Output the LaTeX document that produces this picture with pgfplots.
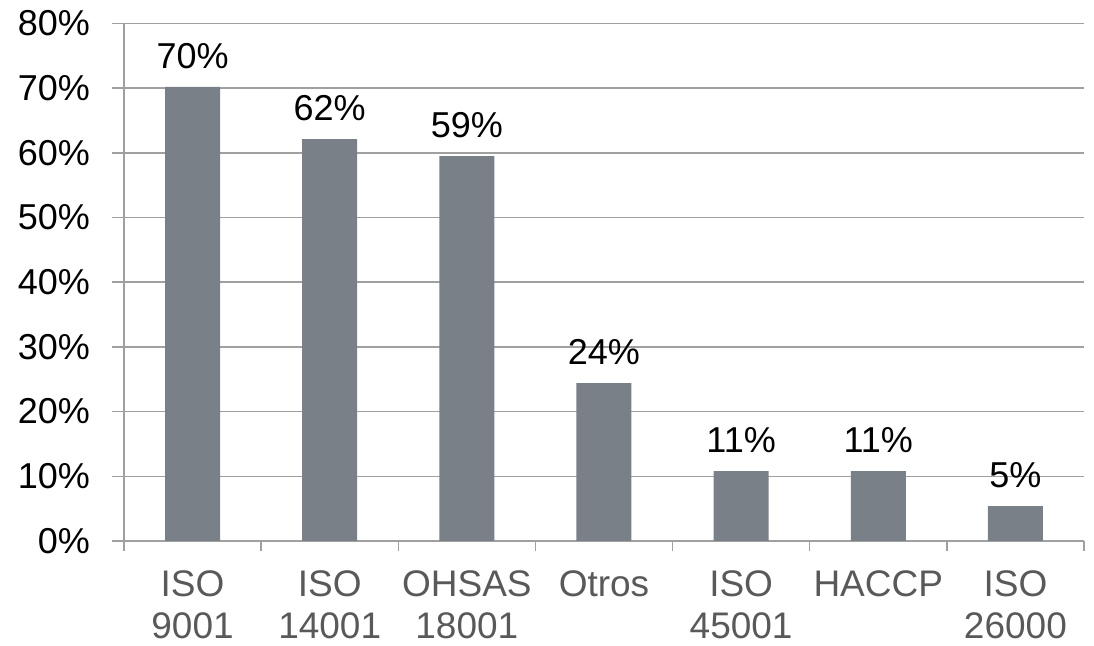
\documentclass[border=0pt]{standalone}
\usepackage{pgfplots}
\pgfplotsset{compat=1.18}
\usepackage{fontspec}
\setmainfont{Liberation Sans}
\definecolor{bargray}{HTML}{7A8088}
\definecolor{gridgray}{HTML}{A0A0A0}
\definecolor{labgray}{HTML}{595959}
\begin{document}
\begin{tikzpicture}
\begin{axis}[
  name=ax,
  scale only axis,
  width=480pt, height=258.8pt,
  xmin=-0.5, xmax=6.5,
  ymin=0, ymax=80,
  ytick={0,10,...,80},
  yticklabels={0\%,10\%,20\%,30\%,40\%,50\%,60\%,70\%,80\%},
  ymajorgrids,
  major grid style={gridgray, line width=0.75pt},
  axis x line*=bottom,
  axis y line*=left,
  axis line style={gridgray, line width=0.75pt},
  xtick={0,...,6},
  xticklabels={ISO\\9001,ISO\\14001,OHSAS\\18001,Otros,ISO\\45001,HACCP,ISO\\26000},
  x tick label style={align=center, text=labgray, font=\fontsize{18.5}{20.8}\selectfont, anchor=north, yshift=-5.5pt},
  y tick label style={text=black, font=\fontsize{18}{21}\selectfont, xshift=-7.5pt},
  major x tick style={draw=none},
  minor xtick={-0.5,0.5,...,6.5},
  minor tick length=5pt,
  minor x tick style={gridgray, line width=0.75pt},
  major tick length=6pt,
  major y tick style={gridgray, line width=0.75pt},
  tick align=outside,
  /pgf/number format/assume math mode=true,
  ybar, bar width=27.5pt,
  point meta=explicit symbolic,
  nodes near coords,
  every node near coord/.append style={font=\fontsize{18}{21}\selectfont, text=black, yshift=5.5pt},
  clip=false,
]
\addplot[fill=bargray, draw=none] table[meta=label] {
x y label
0 70.2 70\%
1 62.1 62\%
2 59.5 59\%
3 24.4 24\%
4 10.8 11\%
5 10.8 11\%
6 5.4 5\%
};
\end{axis}
\pgfresetboundingbox
\path (ax.south west) ++(-62pt,-52.5pt) rectangle ++(547pt,323pt);
\end{tikzpicture}
\end{document}
